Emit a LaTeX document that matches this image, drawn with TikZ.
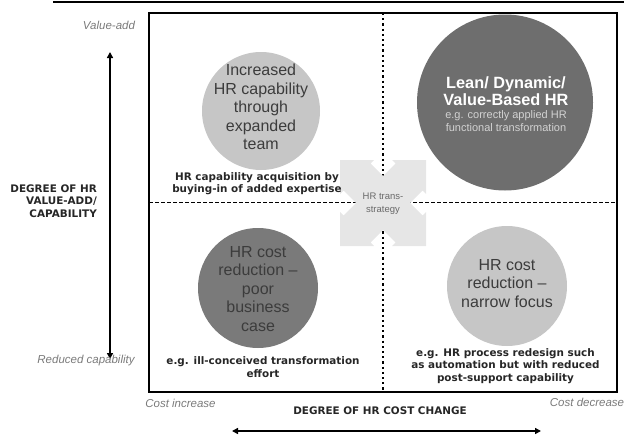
\documentclass[tikz,border=0pt]{standalone}
\usepackage{fontspec}
\setmainfont{Liberation Sans}
\newfontfamily\capfont{DejaVu Sans}
\usetikzlibrary{arrows.meta}
\definecolor{lightc}{HTML}{C6C6C6}
\definecolor{darkc}{HTML}{6E6E6E}
\definecolor{bldark}{HTML}{7A7A7A}
\definecolor{starc}{HTML}{E6E6E6}
\definecolor{txtdark}{HTML}{3C3C3C}
\definecolor{labgray}{HTML}{7A7A7A}
\definecolor{subw}{HTML}{D2D2D2}
\definecolor{startxt}{HTML}{6A6A6A}
\begin{document}
\begin{tikzpicture}[x=1pt,y=-1pt,
  circtxt/.style={font=\fontsize{16}{18.5}\selectfont, align=center, text=txtdark, inner sep=0pt},
  capt/.style={font=\capfont\bfseries\fontsize{10.4}{12.6}\selectfont, align=center, inner sep=0pt, text=black!85},
  axlab/.style={font=\itshape\fontsize{11.5}{13}\selectfont, text=labgray, inner sep=0pt},
  blob/.style={circle, draw=none, inner sep=0pt},
  quadh/.style={dash pattern=on 3.5pt off 2.5pt, line width=1.2pt},
  quadv/.style={dash pattern=on 2.2pt off 3pt, line width=1.3pt},
  axisarrow/.style={line width=1.8pt, {Triangle[length=6pt,width=6pt]}-{Triangle[length=6pt,width=6pt]}}
]
\useasboundingbox (0,0) rectangle (624,434);
% top rule
\coordinate (ruleL) at (53,2);
\coordinate (ruleR) at (624,2);
\draw[line width=2.2pt] (ruleL) -- (ruleR);
% main box
\node[draw, line width=2pt, minimum width=468pt, minimum height=379pt, inner sep=0pt] (box) at (383,202.5) {};
% quadrant dividers
\coordinate (vtop) at (383,13);
\coordinate (vbot) at (383,392);
\coordinate (hleft) at (149,202.5);
\coordinate (hright) at (617,202.5);
\draw[quadv] (vtop) -- (vbot);
\draw[quadh] (hleft) -- (hright);
% circles
\node[blob, fill=lightc, minimum size=118pt] (c1) at (261,111) {};
\node[blob, fill=darkc, minimum size=176pt] (c2) at (505,102.5) {};
\node[blob, fill=bldark, minimum size=120pt] (c3) at (258,288) {};
\node[blob, fill=lightc, minimum size=120pt] (c4) at (507,286) {};
% centre star
\begin{scope}[shift={(383,203)}]
\fill[starc] (-43,-43) -- (-9,-43) -- (-12.5,-39.5) -- (0,-27) -- (12.5,-39.5) -- (9,-43) -- (43,-43)
  -- (43,-9) -- (39.5,-12.5) -- (27,0) -- (39.5,12.5) -- (43,9) -- (43,43)
  -- (9,43) -- (12.5,39.5) -- (0,27) -- (-12.5,39.5) -- (-9,43) -- (-43,43)
  -- (-43,9) -- (-39.5,12.5) -- (-27,0) -- (-39.5,-12.5) -- (-43,-9) -- cycle;
\end{scope}
\node[inner sep=0pt, align=center, text=startxt, font=\fontsize{9.5}{12.5}\selectfont] (star) at (383,203.5) {HR trans-\\strategy};
% circle texts
\node[circtxt] (t1) at (261,107) {Increased\\HR capability\\through\\expanded\\team};
\node[inner sep=0pt, align=center, text=white, font=\bfseries\fontsize{16.3}{17}\selectfont] (t2) at (506,91.5) {Lean/ Dynamic/\\Value-Based HR};
\node[inner sep=0pt, align=center, text=subw, font=\fontsize{11}{12.5}\selectfont] (t2b) at (506,121) {e.g. correctly applied HR\\functional transformation};
\node[circtxt] (t3) at (258,289) {HR cost\\reduction –\\poor\\business\\case};
\node[circtxt] (t4) at (507,283.5) {HR cost\\reduction –\\narrow focus};
% captions
\node[capt] (cap1) at (257,183.5) {HR capability acquisition by\\buying-in of added expertise};
\node[capt] (cap3) at (263,367) {e.g. ill-conceived transformation\\effort};
\node[capt] (cap4) at (505.5,366) {e.g. HR process redesign such\\as automation but with reduced\\post-support capability};
% axes
\coordinate (va) at (110,52);
\coordinate (vb) at (110,359);
\draw[axisarrow] (va) -- (vb);
\coordinate (ha) at (232,431);
\coordinate (hb) at (541,431);
\draw[axisarrow] (ha) -- (hb);
% axis labels
\node[capt, align=right, anchor=east] (ylab) at (97,201) {DEGREE OF HR\\VALUE-ADD/\\CAPABILITY};
\node[capt] (xlab) at (380,410.5) {DEGREE OF HR COST CHANGE};
\node[axlab] (vadd) at (109,25) {Value-add};
\node[axlab] (redc) at (86,361) {Reduced capability};
\node[axlab] (cinc) at (180.5,403) {Cost increase};
\node[axlab] (cdec) at (587,402) {Cost decrease};
\end{tikzpicture}
\end{document}
